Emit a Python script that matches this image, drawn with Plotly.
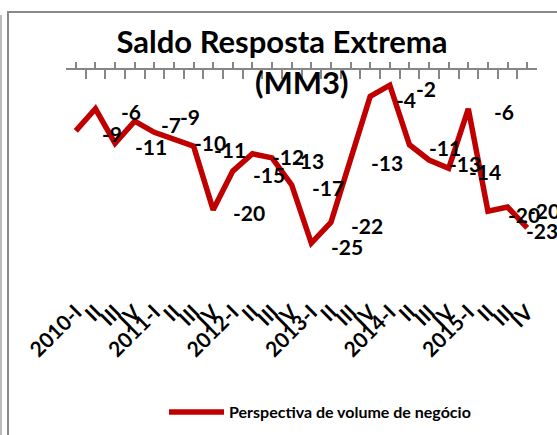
import plotly.graph_objects as go

# trimestres 2010-I .. 2015-IV
periodos = ["2010-I", "II", "III", "IV",
            "2011-I", "II", "III", "IV",
            "2012-I", "II", "III", "IV",
            "2013-I", "II", "III", "IV",
            "2014-I", "II", "III", "IV",
            "2015-I", "II", "III", "IV"]

# saldo de resposta extrema, media movel de 3 meses
saldo = [-8.8, -5.6, -10.6, -7.4, -9.0, -10.0, -11.0, -20.2,
         -14.6, -12.1, -12.7, -16.6, -25.0, -22.0, -12.9, -3.8,
         -2.2, -10.8, -13.0, -14.2, -5.6, -20.4, -19.8, -22.8]

SERIE = "Perspectiva de volume de negócio"
VERMELHO = "#C00000"
CINZA = "#868686"
FONTE = "Lato, Noto Sans, sans-serif"

x = list(range(len(periodos)))

fig = go.Figure()
fig.add_trace(go.Scatter(x=x, y=saldo, mode="lines", name=SERIE,
                         line=dict(color=VERMELHO, width=5.5)))
# eixo do zero no topo (so para desenhar a linha e os tracinhos)
fig.add_trace(go.Scatter(x=x, y=saldo, xaxis="x2", mode="lines",
                         line=dict(width=0), showlegend=False, hoverinfo="skip"))

# rotulos deslocados para a direita como no Excel
desloc_x = [36] * len(saldo)
desloc_y = [-3] * len(saldo)
desloc_x[-1] = 15
desloc_y[4] = 16
for i, v in enumerate(saldo):
    fig.add_annotation(x=i, y=v, text=f"{round(v):d}", showarrow=False,
                       xshift=desloc_x[i], yshift=desloc_y[i],
                       font=dict(family=FONTE, size=21, color="black", weight="bold"))

# segunda linha do titulo
fig.add_annotation(text="(MM3)", xref="paper", yref="paper", x=(302 - 66) / 471,
                   y=(295 - 82) / 225, yanchor="middle", showarrow=False,
                   font=dict(family=FONTE, size=31, color="black", weight="bold"))

fronteiras = [i - 0.5 for i in range(len(periodos) + 1)]
centros = x + [len(periodos) - 0.5]

fig.update_layout(
    width=557, height=435,
    margin=dict(l=66, r=20, t=70, b=140, autoexpand=False),
    paper_bgcolor="white", plot_bgcolor="white",
    title=dict(text="Saldo Resposta Extrema", x=(282 - 66) / 471, xref="paper",
               xanchor="center", y=1 - 42 / 435, yref="container", yanchor="middle",
               font=dict(family=FONTE, size=31, color="black", weight="bold")),
    xaxis=dict(range=[-0.5, len(periodos) - 0.5], tickmode="array", tickvals=x,
               ticktext=periodos, tickangle=-45, showline=False, showgrid=False,
               zeroline=False, ticks="", automargin=False,
               tickfont=dict(family=FONTE, size=21, color="black", weight="bold")),
    xaxis2=dict(range=[-0.5, len(periodos) - 0.5], overlaying="x", side="top",
                anchor="y", showline=True, linecolor=CINZA, linewidth=2,
                showgrid=False, zeroline=False, showticklabels=False,
                tickmode="array", tickvals=fronteiras, ticks="inside",
                ticklen=9, tickwidth=2, tickcolor=CINZA, automargin=False,
                minor=dict(tickmode="array", tickvals=centros, ticks="outside",
                           ticklen=6, tickwidth=2, tickcolor=CINZA)),
    yaxis=dict(range=[-32.5, 0], visible=False, automargin=False),
    showlegend=True,
    legend=dict(orientation="h", x=(320 - 66) / 471, xanchor="center",
                y=-0.52, yanchor="middle", itemwidth=55,
                font=dict(family=FONTE, size=16, color="black", weight="bold")),
    shapes=[
        dict(type="rect", xref="paper", yref="paper",
             x0=(8 - 66) / 471, x1=(575 - 66) / 471,
             y0=(295 - 450) / 225, y1=(295 - 12) / 225,
             line=dict(color="#898989", width=2), layer="below"),
        dict(type="line", xref="paper", yref="paper",
             x0=(1 - 66) / 471, x1=(1 - 66) / 471,
             y0=(295 - 450) / 225, y1=(295 - 15) / 225,
             line=dict(color="#BBBBBB", width=2)),
    ],
)

# sem a margem padrao do <body>, para a figura ocupar a janela inteira
fig.write_html("out.html", config={"displayModeBar": False},
               post_script="document.body.style.margin='0';"
                           "document.body.style.overflow='hidden';")
